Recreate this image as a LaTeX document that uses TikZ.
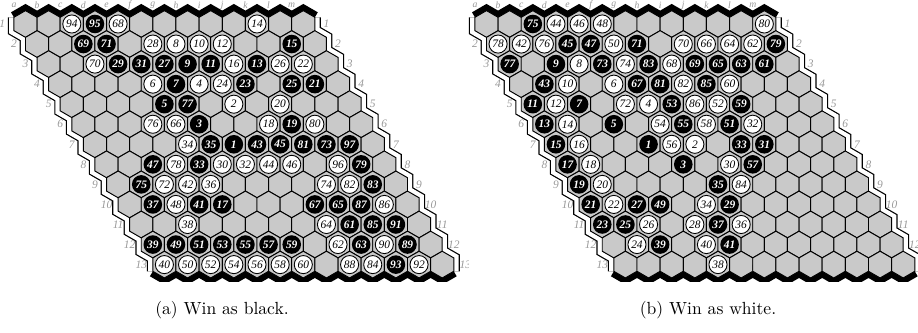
\documentclass[tikz,border=0pt]{standalone}
\usepackage{fontspec}
\usepackage{tikz}
\newfontfamily\stonefont{Liberation Serif}
\definecolor{cellgray}{gray}{0.79}
\definecolor{rimgray}{gray}{0.6}

% one 13x13 board: #1 name prefix, #2 black stones, #3 white stones (col/row/move)
\newcommand{\hexboard}[3]{%
  \draw[blackrim] (13.925,17.317) \foreach \c in {0,...,12}{ -- ({25.5+23.15*\c},10.634) -- ({37.075+23.15*\c},17.317) };
  \draw[blackrim] (152.825,271.283) \foreach \c in {0,...,12}{ -- ({164.4+23.15*\c},277.966) -- ({175.975+23.15*\c},271.283) };
  \foreach \x in {13.925,314.875}
    \draw[whiterim] (\x,17.317) \foreach \r in {0,...,12}{ -- ({\x+11.575*\r},{17.317+20.05*\r}) -- ({\x+11.575*\r},{30.683+20.05*\r}) };
  \foreach \r in {0,...,12}
    \foreach \c in {0,...,12}
      \draw[hexcell] ({25.5+23.15*\c+11.575*\r},{24+20.05*\r}) +(0,-13.366) -- +(11.575,-6.683) -- +(11.575,6.683) -- +(0,13.366) -- +(-11.575,6.683) -- +(-11.575,-6.683) -- cycle;
  \foreach \c/\r/\n in {#2}
    \node[bstone] (#1-\n) at ({25.5+23.15*\c+11.575*(\r-1)},{24+20.05*(\r-1)}) {\n};
  \foreach \c/\r/\n in {#3}
    \node[wstone] (#1-\n) at ({25.5+23.15*\c+11.575*(\r-1)},{24+20.05*(\r-1)}) {\n};
  \foreach \c/\l in {0/a,1/b,2/c,3/d,4/e,5/f,6/g,7/h,8/i,9/j,10/k,11/l,12/m}
    \node[rimlabel, font=\stonefont\itshape\fontsize{5.5}{6}\selectfont] (#1-top-\l) at ({13.925+23.15*\c},5) {\l};
  \foreach \r in {1,...,13}{
    \node[rimlabel] (#1-left-\r) at ({2.35+11.575*(\r-1)},{24+20.05*(\r-1)}) {\r};
    \node[rimlabel] (#1-right-\r) at ({326.45+11.575*(\r-1)},{24+20.05*(\r-1)}) {\r};
  }
}

\begin{document}
\begin{tikzpicture}[x=0.02cm, y=-0.02cm]
  \tikzstyle{hexcell} = [fill=cellgray, draw=black, line width=0.55pt]
  \tikzstyle{blackrim} = [draw=black, line width=6.6pt, line join=miter]
  \tikzstyle{whiterim} = [draw=black, line width=0.7pt, double=white, double distance=5.4pt, line join=miter]
  \tikzstyle{bstone} = [circle, fill=black, minimum size=0.372cm, inner sep=0pt, text=white, font=\stonefont\bfseries\itshape\fontsize{6.5}{7}\selectfont]
  \tikzstyle{wstone} = [circle, fill=white, draw=black, line width=0.5pt, minimum size=0.362cm, inner sep=0pt, text=black, font=\stonefont\itshape\fontsize{6.5}{7}\selectfont]
  \tikzstyle{rimlabel} = [text=rimgray, inner sep=0pt, font=\stonefont\itshape\fontsize{6.5}{7}\selectfont]
  \useasboundingbox (0,0) rectangle (918,333);

  % (a) black wins
  \begin{scope}
    \clip (0,0) rectangle (468,282);
    \hexboard{A}{3/1/95, 2/2/69, 3/2/71, 11/2/15, 3/3/29, 4/3/31, 5/3/27, 6/3/9, 7/3/11, 9/3/13,
      5/4/7, 8/4/23, 10/4/25, 11/4/21, 4/5/5, 5/5/77, 5/6/3, 9/6/19,
      5/7/35, 6/7/1, 7/7/43, 8/7/45, 9/7/81, 10/7/73, 11/7/97, 2/8/47, 4/8/33, 11/8/79,
      1/9/75, 11/9/83, 1/10/37, 3/10/41, 4/10/17, 8/10/67, 9/10/65, 10/10/87,
      9/11/61, 10/11/85, 11/11/91, 0/12/39, 1/12/49, 2/12/51, 3/12/53, 4/12/55, 5/12/57, 6/12/59,
      9/12/63, 11/12/89, 10/13/93}
    {2/1/94, 4/1/68, 10/1/14, 5/2/28, 6/2/8, 7/2/10, 8/2/12, 2/3/70, 8/3/16, 10/3/26, 11/3/22,
      4/4/6, 6/4/4, 7/4/24, 7/5/2, 9/5/20, 3/6/76, 4/6/66, 8/6/18, 10/6/80, 4/7/34,
      3/8/78, 5/8/30, 6/8/32, 7/8/44, 8/8/46, 10/8/96, 2/9/72, 3/9/42, 4/9/36, 9/9/74, 10/9/82,
      2/10/48, 11/10/86, 2/11/38, 8/11/64, 8/12/62, 10/12/90,
      0/13/40, 1/13/50, 2/13/52, 3/13/54, 4/13/56, 5/13/58, 6/13/60, 8/13/88, 9/13/84, 11/13/92}
  \end{scope}

  % (b) white wins
  \begin{scope}[shift={(461,0)}]
    \clip (5,0) rectangle (457,282);
    \hexboard{B}{2/1/75, 3/2/45, 4/2/47, 6/2/71, 12/2/79, 0/3/77, 2/3/9, 4/3/73, 6/3/83, 8/3/69, 9/3/65, 10/3/63, 11/3/61,
      1/4/43, 5/4/67, 6/4/81, 8/4/85, 0/5/11, 2/5/7, 6/5/53, 9/5/59, 0/6/13, 3/6/5, 6/6/55, 8/6/51,
      0/7/15, 4/7/1, 8/7/33, 9/7/31, 0/8/17, 5/8/3, 8/8/57, 0/9/19, 6/9/35,
      0/10/21, 2/10/27, 3/10/49, 6/10/29, 0/11/23, 1/11/25, 5/11/37, 2/12/39, 5/12/41}
    {3/1/44, 4/1/46, 5/1/48, 12/1/80, 0/2/78, 1/2/42, 2/2/76, 5/2/50, 8/2/70, 9/2/66, 10/2/64, 11/2/62,
      3/3/8, 5/3/74, 7/3/68, 2/4/10, 4/4/6, 7/4/82, 9/4/60, 1/5/12, 4/5/72, 5/5/4, 7/5/86, 8/5/52,
      1/6/14, 5/6/54, 7/6/58, 9/6/32, 1/7/16, 5/7/56, 6/7/2, 1/8/18, 7/8/30, 1/9/20, 7/9/84,
      1/10/22, 5/10/34, 2/11/26, 4/11/28, 6/11/36, 1/12/24, 4/12/40, 4/13/38}
  \end{scope}

  \node (capA) at (222,310) {(a) Win as black.};
  \node (capB) at (708,310) {(b) Win as white.};
\end{tikzpicture}
\end{document}
